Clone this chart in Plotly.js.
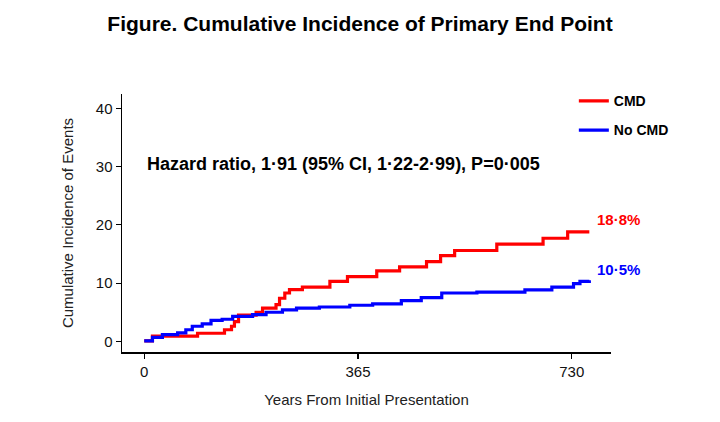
<!DOCTYPE html>
<html>
<head>
<meta charset="utf-8">
<script src="https://cdn.plot.ly/plotly-3.0.1.min.js"></script>
<style>html,body{margin:0;padding:0;background:#fff;}#chart{width:720px;height:422px;}</style>
</head>
<body>
<div id="chart"></div>
<script>
// Days from initial presentation at which each step starts, and cumulative incidence (%)
var cmdDays = [0, 14, 91, 137, 149, 154, 161, 191, 202, 225, 231, 240, 248, 270, 317, 347, 397, 436, 482, 506, 530, 602, 681, 723, 760];
var cmdVals = [0.1, 0.9, 1.4, 2.0, 2.6, 3.4, 4.5, 5.0, 5.7, 6.3, 7.4, 8.3, 8.9, 9.3, 10.3, 11.1, 12.1, 12.8, 13.7, 14.7, 15.6, 16.7, 17.7, 18.8, 18.8];
var noCmdDays = [0, 14, 31, 57, 71, 82, 99, 114, 133, 151, 185, 208, 236, 260, 299, 351, 390, 439, 473, 508, 568, 650, 696, 733, 744, 760];
var noCmdVals = [0.1, 0.7, 1.15, 1.45, 2.0, 2.6, 3.0, 3.6, 3.8, 4.3, 4.6, 5.0, 5.4, 5.7, 5.9, 6.2, 6.45, 7.0, 7.5, 8.3, 8.45, 8.85, 9.3, 9.9, 10.3, 10.5];
var seriesNames = ["CMD", "No CMD"];
var endLabels = ["18·8%", "10·5%"];
var xTicks = [0, 365, 730];
var yTicks = [0, 10, 20, 30, 40];
var hrText = "Hazard ratio, 1·91 (95% CI, 1·22-2·99), P=0·005";

var red = "#ff0000", blue = "#0000ff";
var FONT = "Liberation Sans, Arial, sans-serif";

var traces = [
  {x: cmdDays, y: cmdVals, name: seriesNames[0], mode: "lines", line: {shape: "hv", color: red, width: 3.2}, legendgroup: "a"},
  {x: noCmdDays, y: noCmdVals, name: seriesNames[1], mode: "lines", line: {shape: "hv", color: blue, width: 3.2}, legendgroup: "b"}
];

var layout = {
  width: 720, height: 422,
  margin: {l: 122, r: 109, t: 94, b: 70},
  paper_bgcolor: "#fff", plot_bgcolor: "#fff",
  font: {family: FONT, color: "#000", size: 14},
  title: {text: "<b>Figure. Cumulative Incidence of Primary End Point</b>", font: {size: 21, color: "#000", family: FONT}, x: 0.5, xanchor: "center", y: 0.945, yanchor: "middle"},
  showlegend: true,
  legend: {x: 0.924, xanchor: "left", y: 1.034, yanchor: "top", font: {size: 14, color: "#000", family: FONT, weight: "bold"}, tracegroupgap: 8, itemwidth: 30, bgcolor: "rgba(0,0,0,0)"},
  xaxis: {
    range: [-38, 797], tickvals: xTicks, ticktext: xTicks.map(String),
    showline: true, linecolor: "#000", linewidth: 1.5, showgrid: false, zeroline: false,
    ticks: "outside", ticklen: 5, tickcolor: "#000", tickwidth: 1.2,
    tickfont: {size: 15, color: "#111"},
    title: {text: "Years From Initial Presentation", font: {size: 15, color: "#222"}, standoff: 16}
  },
  yaxis: {
    range: [-1.82, 42.45], tickvals: yTicks, ticktext: yTicks.map(String),
    showline: true, linecolor: "#000", linewidth: 1.5, showgrid: false, zeroline: false,
    ticks: "outside", ticklen: 5, tickcolor: "#000", tickwidth: 1.2,
    tickfont: {size: 15, color: "#111"},
    title: {text: "Cumulative Incidence of Events", font: {size: 15, color: "#222"}, standoff: 18}
  },
  annotations: [
    {xref: "paper", yref: "y", x: 0.048, y: 30.5, xanchor: "left", yanchor: "middle", text: "<b>" + hrText + "</b>", showarrow: false, font: {size: 18, color: "#000"}},
    {xref: "x", yref: "y", x: cmdDays[cmdDays.length - 1], y: cmdVals[cmdVals.length - 1] + 2.1, xanchor: "left", yanchor: "middle", xshift: 6, text: "<b>" + endLabels[0] + "</b>", showarrow: false, font: {size: 15, color: red}},
    {xref: "x", yref: "y", x: noCmdDays[noCmdDays.length - 1], y: noCmdVals[noCmdVals.length - 1] + 1.8, xanchor: "left", yanchor: "middle", xshift: 6, text: "<b>" + endLabels[1] + "</b>", showarrow: false, font: {size: 15, color: blue}}
  ]
};

Plotly.newPlot("chart", traces, layout, {displayModeBar: false, staticPlot: true});
</script>
</body>
</html>
